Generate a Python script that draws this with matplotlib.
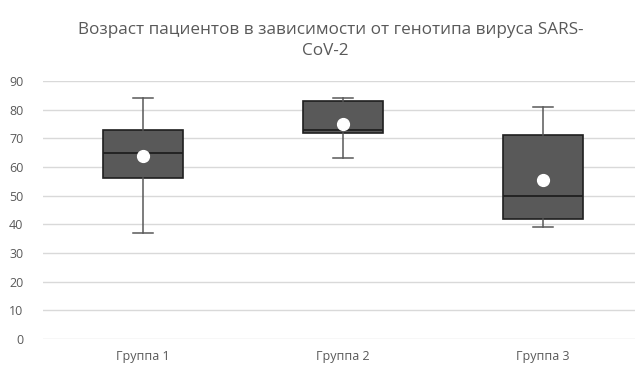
import matplotlib
matplotlib.use("Agg")
import matplotlib.pyplot as plt

# Age distribution summary per virus genotype group
groups = ["Группа 1", "Группа 2", "Группа 3"]
whisker_low = [37, 63, 39]
q1 = [56, 72, 42]
median = [65, 73, 50]
q3 = [73, 83, 71]
whisker_high = [84, 84, 81]
mean = [63.8, 75, 55.3]

yticks = [0, 10, 20, 30, 40, 50, 60, 70, 80, 90]

plt.rcParams["font.family"] = ["Open Sans", "DejaVu Sans"]

fig = plt.figure(figsize=(6.35, 3.67), dpi=100)
ax = fig.add_axes([43 / 635, 28 / 367, (635 - 43) / 635, (339 - 81) / 367])

stats = []
for i, name in enumerate(groups):
    stats.append(dict(label=name, whislo=whisker_low[i], q1=q1[i], med=median[i],
                      q3=q3[i], whishi=whisker_high[i], mean=mean[i], fliers=[]))

ax.bxp(stats, positions=[1, 2, 3], widths=0.4, patch_artist=True, showmeans=True,
       boxprops=dict(facecolor="#595959", edgecolor="#1f1f1f", linewidth=1.2),
       medianprops=dict(color="#1f1f1f", linewidth=1.3),
       whiskerprops=dict(color="#595959", linewidth=1.1),
       capprops=dict(color="#595959", linewidth=1.1),
       capwidths=0.1,
       meanprops=dict(marker="o", markerfacecolor="white", markeredgecolor="white",
                      markersize=8.5))

ax.set_xlim(0.5, 1 + (635 - 143) / 200)
ax.set_ylim(0, 90)
ax.set_yticks(yticks)
ax.yaxis.grid(True, color="#d9d9d9", linewidth=1)
ax.set_axisbelow(True)
for s in ax.spines.values():
    s.set_visible(False)
ax.tick_params(axis="both", length=0, colors="#595959", labelsize=9)
ax.tick_params(axis="y", pad=14)
ax.tick_params(axis="x", pad=8)
ax.set_xticks([1, 2, 3])
ax.set_xticklabels(groups)

fig.text(331 / 635, 1 - 30 / 367, "Возраст пациентов в зависимости от генотипа вируса SARS-",
         ha="center", va="center", fontsize=12.3, color="#595959")
fig.text(325 / 635, 1 - 51 / 367, "CoV-2", ha="center", va="center", fontsize=12.3, color="#595959")

fig.savefig("out.png", dpi=100, facecolor="white")
